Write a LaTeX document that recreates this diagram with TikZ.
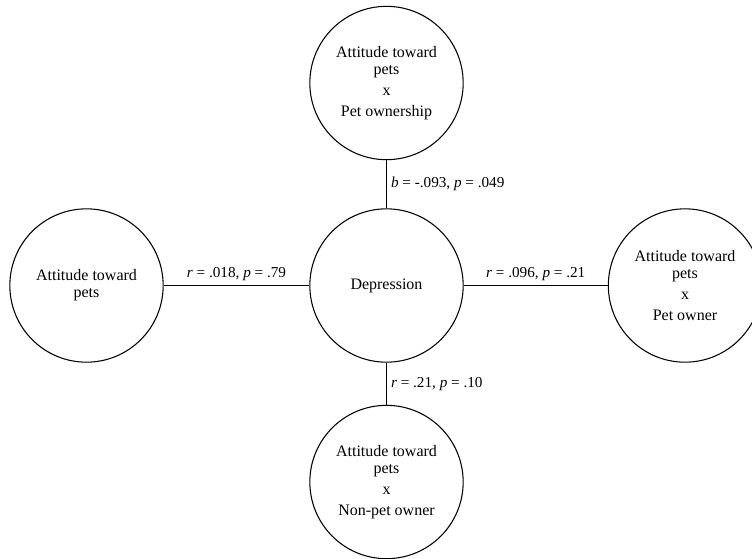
\documentclass[tikz,border=0pt]{standalone}
\usepackage{fontspec}
\setmainfont{Liberation Serif}
\begin{document}
\begin{tikzpicture}[x=0.75pt,y=-0.75pt,
  var/.style={draw, circle, line width=0.8pt, minimum size=115pt, inner sep=0pt, align=center, font=\fontsize{12}{12.75}\selectfont},
  conn/.style={line width=0.8pt},
  lab/.style={font=\fontsize{11.4}{14}\selectfont, inner sep=3pt}]
\clip (0,0) rectangle (752,558);
\useasboundingbox (0,0) rectangle (752,558);
\node[var] (C) at (386.5,285.5) {Depression};
\node[var] (T) at (386.5,83) {Attitude toward\\pets\\[3pt]x\\[3pt]Pet ownership};
\node[var] (B) at (386.5,482) {Attitude toward\\pets\\[3pt]x\\[3pt]Non-pet owner};
\node[var] (L) at (86.5,285.5) {Attitude toward\\pets};
\node[var] (R) at (685,285.5) {Attitude toward\\pets\\[3pt]x\\[3pt]Pet owner};
\draw[conn] (T) -- (C) node[midway, right, lab] {\textit{b} = -.093, \textit{p} = .049};
\draw[conn] (L) -- (C) node[midway, above, lab] {\textit{r} = .018, \textit{p} = .79};
\draw[conn] (C) -- (R) node[midway, above, lab] {\textit{r} = .096, \textit{p} = .21};
\draw[conn] (C) -- (B) node[midway, right, lab] {\textit{r} = .21, \textit{p} = .10};
\end{tikzpicture}
\end{document}
